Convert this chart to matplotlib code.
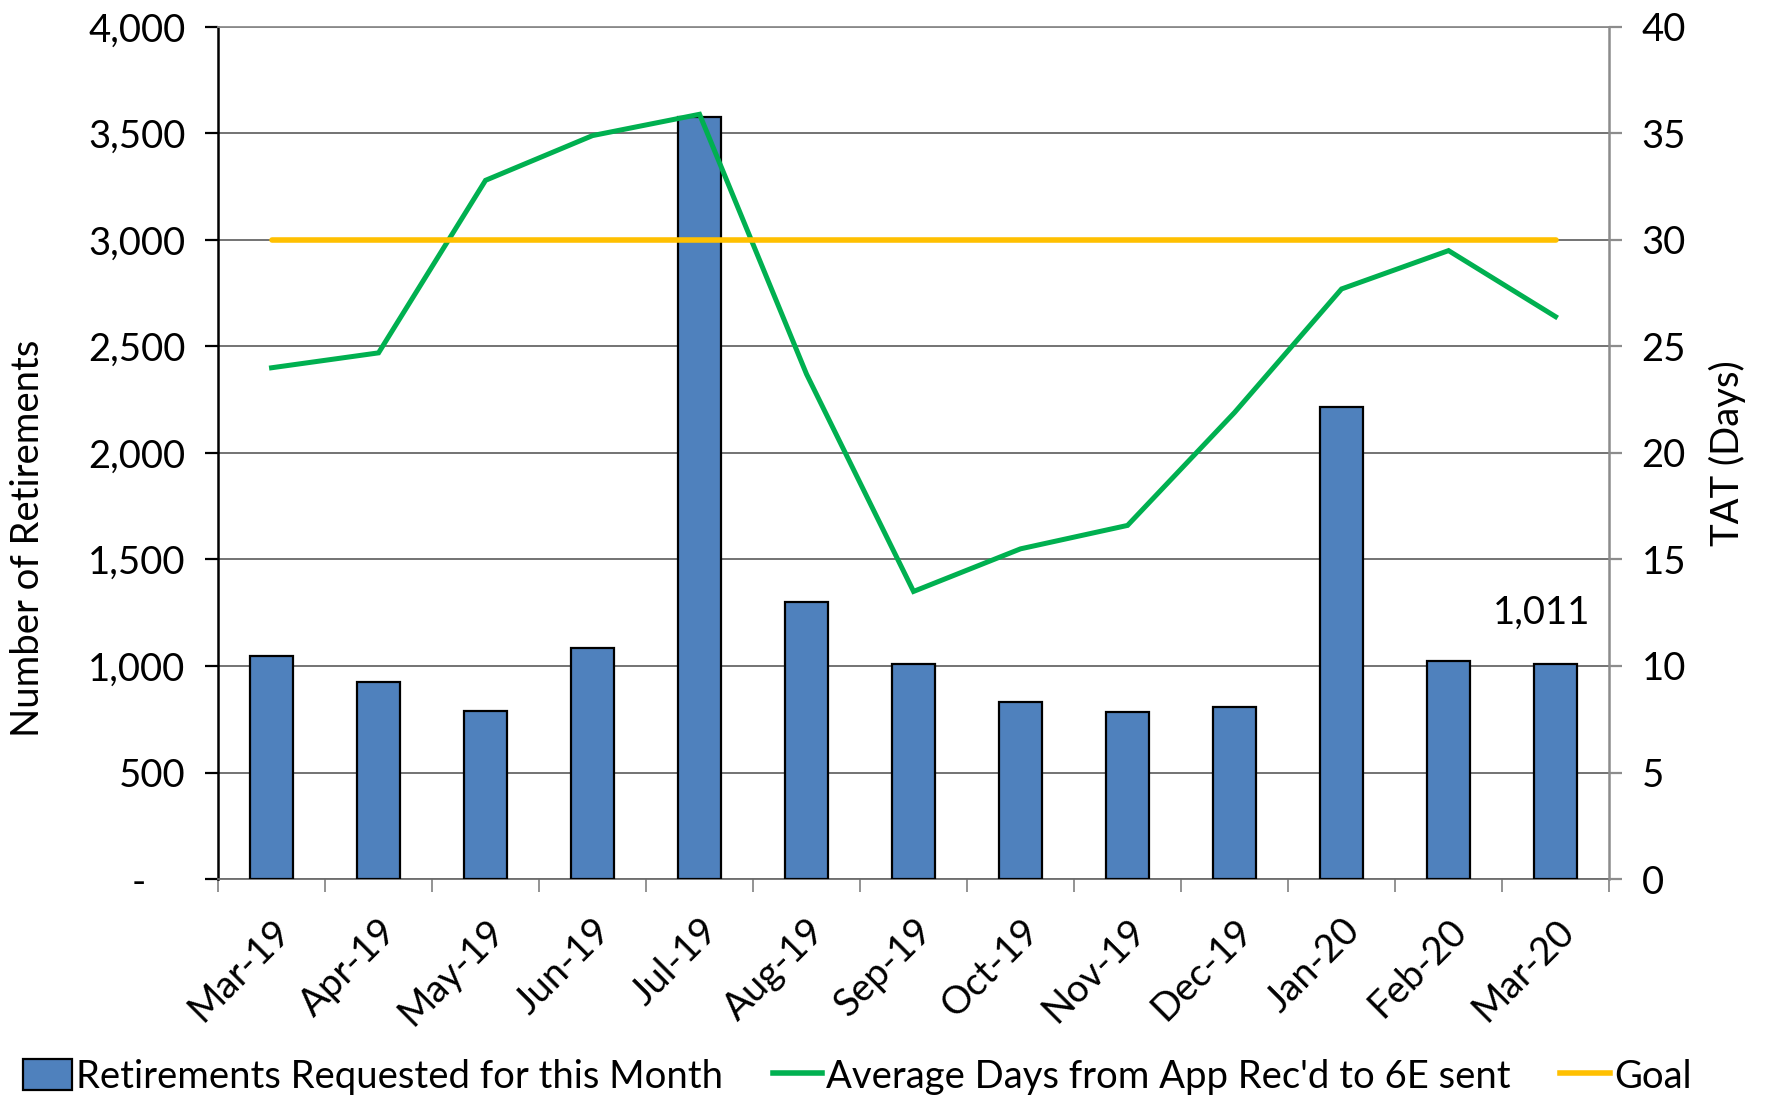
import numpy as np
import matplotlib.pyplot as plt
from matplotlib.ticker import FuncFormatter, FixedLocator
from matplotlib.patches import Patch
from matplotlib.lines import Line2D

plt.rcParams['font.family'] = ['Lato', 'DejaVu Sans']

# data
months = ['Mar-19', 'Apr-19', 'May-19', 'Jun-19', 'Jul-19', 'Aug-19', 'Sep-19',
          'Oct-19', 'Nov-19', 'Dec-19', 'Jan-20', 'Feb-20', 'Mar-20']
retirements = [1045, 925, 787, 1083, 3577, 1300, 1009, 830, 782, 808, 2214, 1025, 1011]
avg_days = [24.0, 24.7, 32.8, 34.9, 35.9, 23.7, 13.5, 15.5, 16.6, 21.9, 27.7, 29.5, 26.4]
goal = [30] * len(months)

blue = '#4F81BD'
green = '#00B050'
gold = '#FFC000'
fs = 27.5

fig = plt.figure(figsize=(17.67, 11), dpi=100)
ax = fig.add_axes([0.1234, 0.2009, 0.9106 - 0.1234, 0.9755 - 0.2009])
x = np.arange(len(months))

# bars + grid on left axis
ax.bar(x, retirements, width=0.40, color=blue, edgecolor='black', linewidth=1.6, zorder=3)
ax.set_xlim(-0.5, len(months) - 0.5)
ax.set_ylim(0, 4000)
ax.set_yticks(np.arange(0, 4001, 500))
ax.yaxis.set_major_formatter(FuncFormatter(lambda v, p: '-    ' if v == 0 else f'{int(v):,}'))
ax.grid(axis='y', color='#4d4d4d', linewidth=1.1, zorder=0)
ax.set_axisbelow(True)
ax.tick_params(axis='y', labelsize=fs, length=9.5, width=1.6, color='black', pad=14)
ax.set_ylabel('Number of Retirements', fontsize=fs)
ax.yaxis.set_label_coords(-0.124, 0.40)

ax.set_xticks(x)
ax.set_xticklabels(months, rotation=45, ha='right', rotation_mode='anchor', fontsize=fs)
ax.tick_params(axis='x', which='major', length=0, pad=24)
ax.xaxis.set_minor_locator(FixedLocator(np.arange(-0.5, len(months), 1.0)))
ax.tick_params(axis='x', which='minor', length=9.5, width=1.2, color='#808080')

ax.spines['left'].set_linewidth(1.8)
ax.spines['left'].set_color('black')
ax.spines['bottom'].set_color('#6e6e6e')
ax.spines['bottom'].set_linewidth(1.3)
ax.spines['top'].set_color('#8c8c8c')
ax.spines['top'].set_linewidth(1.3)
ax.spines['right'].set_visible(False)

# lines on right axis
ax2 = ax.twinx()
ax2.plot(x, avg_days, color=green, linewidth=3.6, solid_joinstyle='miter', zorder=4)
ax2.plot(x, goal, color=gold, linewidth=4.0, solid_capstyle='round', zorder=4)
ax2.set_ylim(0, 40)
ax2.set_yticks(np.arange(0, 41, 5))
ax2.tick_params(axis='y', labelsize=fs, length=9.5, width=1.6, color='#8c8c8c', pad=14)
ax2.set_ylabel('TAT (Days)', fontsize=fs, rotation=90, labelpad=16)
for s in ['left', 'top', 'bottom']:
    ax2.spines[s].set_visible(False)
ax2.spines['right'].set_color('#8c8c8c')
ax2.spines['right'].set_linewidth(1.8)

# last bar label
ax.annotate(f'{retirements[-1]:,}', xy=(x[-1], retirements[-1]), xytext=(-10, 24),
            textcoords='offset points', ha='center', va='bottom', fontsize=fs)

handles = [Patch(facecolor=blue, edgecolor='black', linewidth=1.6),
           Line2D([], [], color=green, linewidth=4.0),
           Line2D([], [], color=gold, linewidth=4.0)]
labels = ['Retirements Requested for this Month',
          "Average Days from App Rec'd to 6E sent", 'Goal']
fig.legend(handles, labels, loc='lower center', bbox_to_anchor=(0.485, -0.016), ncol=3,
           frameon=False, fontsize=fs, handlelength=1.3, handleheight=0.9,
           handletextpad=0.1, columnspacing=1.3, borderaxespad=0.2)

fig.savefig('out.png', dpi=100)
